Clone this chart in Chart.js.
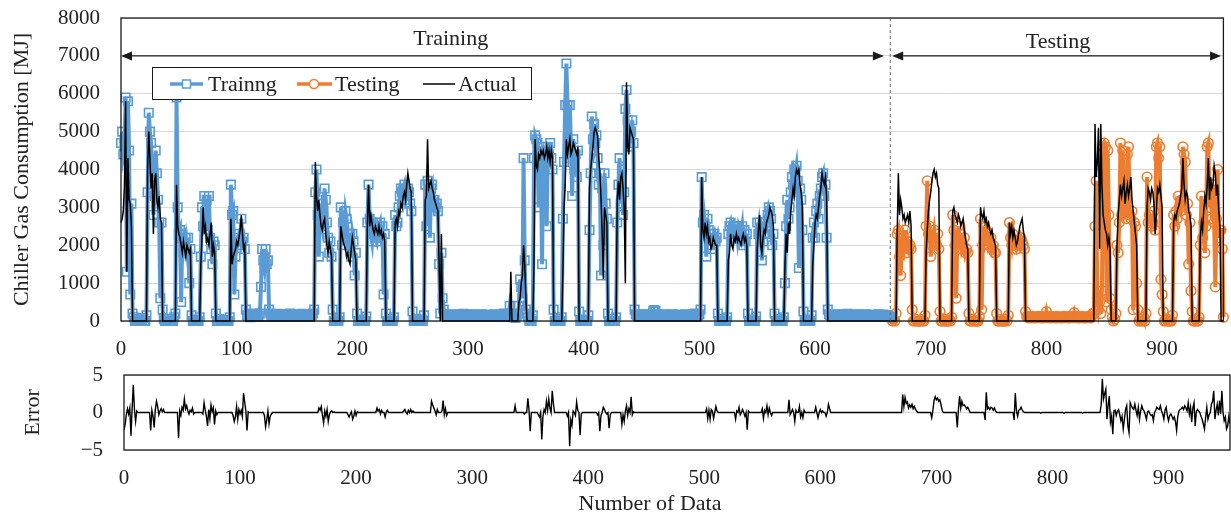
<!DOCTYPE html>
<html lang="en">
<head>
  <meta charset="UTF-8">
  <title>Chiller Gas Consumption - Training / Testing</title>

  <!-- Chart.js for graph -->
  <script src="https://cdn.jsdelivr.net/npm/chart.js"></script>

  <style>
    body { margin: 0; background: #fff; }
    #wrap { position: relative; width: 1231px; height: 518px; }
    #topChart { position: absolute; left: 0; top: 0; }
    #errChart { position: absolute; left: 0; top: 355px; }
  </style>
</head>

<body>
  <div id="wrap">
    <canvas id="topChart" width="1231" height="365"></canvas>
    <canvas id="errChart" width="1231" height="163"></canvas>
  </div>

  <script>
    // ---- data (one value per data index) ----
    const xTicks = [0, 100, 200, 300, 400, 500, 600, 700, 800, 900];
    const yTicks = [0, 1000, 2000, 3000, 4000, 5000, 6000, 7000, 8000];
    const errTicks = [-5, 0, 5];
    const lastIndex = 953;
    const testStart = 666;   // first testing index
    const splitAt = 665;     // dashed separator

    // measured consumption, index 0..953
    const actual = [
      2600,2700,2900,3600,5800,1300,4300,3200,3100,2500,
      0,0,0,0,0,0,0,0,0,0,0,0,0,
      4000,5000,4300,3500,3900,2300,3700,3900,3200,3000,3300,2700,2600,
      0,0,0,0,0,0,0,0,0,0,0,0,
      3600,2500,2300,2200,2000,1800,2100,1900,1700,2000,1900,1800,1900,
      0,0,0,0,0,0,0,0,
      1500,2200,3000,2300,2500,2100,2200,2000,2300,2600,1700,2000,1800,
      0,0,0,0,0,0,0,0,0,0,0,0,0,
      2700,1500,1700,1800,1900,2100,2000,2200,2400,2800,2300,1900,2000,
      0,0,0,0,0,0,0,0,0,0,
      0,0,0,0,0,0,0,0,0,0,
      0,0,0,0,0,0,0,0,0,0,
      0,0,0,0,0,0,0,0,0,0,
      0,0,0,0,0,0,0,0,0,0,
      0,0,0,0,0,0,0,0,0,0,
      4200,3300,2900,3200,2800,2500,2400,2600,2700,2300,2000,1800,2100,1900,1700,
      0,0,0,0,0,0,0,
      2500,2300,2100,2000,1900,1700,1800,1600,1500,1900,2200,2000,1800,1600,
      0,0,0,0,0,0,0,0,0,
      2600,3600,2500,2800,2600,2400,2300,2500,2400,2300,2500,2300,2400,2200,2300,2100,
      0,0,0,0,0,0,0,0,
      2600,2700,2500,2900,2800,3100,3000,3300,3400,3200,3600,3900,3700,3500,3400,
      0,0,0,0,0,0,0,0,0,0,0,
      3200,3300,4800,3500,3600,3700,3500,3400,3200,3100,3000,2900,1500,0,2300,0,
      0,0,0,0,0,0,0,0,0,0,
      0,0,0,0,0,0,0,0,0,0,
      0,0,0,0,0,0,0,0,0,0,
      0,0,0,0,0,0,0,0,0,0,
      0,0,0,0,0,0,0,0,0,0,
      0,0,0,0,0,0,0,0,
      1300,
      0,0,0,0,0,0,
      500,600,1000,1200,2000,1500,600,
      0,0,0,0,0,0,
      1500,4800,4100,4000,4400,4300,4500,4400,4500,4300,4400,4600,4300,4500,4200,4500,4300,
      0,0,0,0,0,0,0,0,
      1300,3000,3600,4800,4400,4600,4800,4400,4500,4700,4600,4500,4400,4600,
      0,0,0,0,0,0,0,0,0,
      3500,4000,4300,4600,5000,5100,5000,4900,4300,3900,3200,2300,1100,3000,2800,2600,
      0,0,0,0,0,0,0,0,
      3200,3700,3200,3800,3900,3500,3000,1000,6300,4600,4400,5100,5000,4900,4800,
      0,0,0,0,0,0,0,0,0,0,
      0,0,0,0,0,0,0,0,0,0,
      0,0,0,0,0,0,0,0,0,0,
      0,0,0,0,0,0,0,0,0,0,
      0,0,0,0,0,0,0,0,0,0,
      0,0,0,0,0,0,0,0,
      3800,2400,2200,2600,2300,2500,2100,2200,1900,2000,2200,2100,2000,2000,
      0,0,0,0,0,0,0,0,0,
      1600,1800,2300,2000,1900,2200,2100,2300,2100,2200,2100,2000,2200,2300,2100,2200,2000,
      0,0,0,0,0,0,0,0,
      1900,2400,2800,2000,1800,2200,2400,2300,2600,2700,2800,3000,2900,2800,2500,
      0,0,0,0,0,0,0,0,0,
      1500,2300,1800,2600,2300,2900,3200,3500,3300,3800,4000,3900,4000,3600,3400,3000,
      0,0,0,0,0,0,0,0,
      1500,2000,2600,2800,2700,3000,3300,3500,3900,3700,3600,3800,3300,
      0,0,0,0,0,0,0,0,0,0,
      0,0,0,0,0,0,0,0,0,0,
      0,0,0,0,0,0,0,0,0,0,
      0,0,0,0,0,0,0,0,0,0,
      0,0,0,0,0,0,0,0,0,0,
      0,0,0,0,0,0,0,0,0,0,
      2300,3900,2800,3200,3000,2700,2800,2600,2700,2800,2600,2900,2500,
      0,0,0,0,0,0,0,0,0,0,0,0,
      1800,2400,2900,3200,3400,3700,3900,4000,3800,3900,3600,3500,
      0,0,0,0,0,0,0,0,0,0,0,
      2900,3000,2800,2700,2600,2800,2700,2500,2600,2700,2400,2200,2000,1900,
      0,0,0,0,0,0,0,0,0,0,
      3000,2800,2700,2900,2600,2700,2500,2600,2400,2300,2400,2200,2100,2000,
      0,0,0,0,0,0,0,0,0,0,0,
      2600,2300,2500,2200,2400,2200,2000,2100,2300,2500,2600,2700,2400,2200,
      0,0,0,0,0,0,0,0,0,0,
      0,0,0,0,0,0,0,0,0,0,
      0,0,0,0,0,0,0,0,0,0,
      0,0,0,0,0,0,0,0,0,0,
      0,0,0,0,0,0,0,0,0,0,
      0,0,0,0,0,0,0,0,0,0,
      5200,3800,4200,5100,1900,5200,3600,2800,2600,2400,2300,2000,2200,1900,
      0,0,0,0,0,
      2000,2800,3200,3600,3300,3500,3700,3100,3400,3600,3300,3500,3800,3200,2900,2600,2300,2000,
      0,0,0,0,0,0,0,0,
      3000,3500,3400,3200,3500,3400,3100,2300,2800,3500,3400,3600,3300,3000,
      0,0,0,0,0,0,0,0,0,
      2600,2800,2700,2900,3000,3100,3300,3500,4300,3600,3200,3400,3300,2900,2800,2500,
      0,0,0,0,0,0,0,
      2200,2600,2400,2900,3300,3100,3600,4300,3200,3800,3500,3600,4100,3900,3300,3600,2900,2500,
      0,0,0
    ];

    // model output on the training part, index 0..665
    const trainPred = [
      4700,5000,4400,4600,5900,1300,5800,4500,700,3100,
      200,100,0,0,50,0,0,0,0,80,0,0,150,
      3400,5500,5000,4700,3600,2800,3300,4500,3900,3200,2600,600,2600,
      300,50,0,0,0,60,0,0,0,0,100,200,
      5900,3000,2300,2400,500,2300,1800,2000,2200,1900,2200,1000,1900,
      150,0,0,0,40,0,0,100,
      1700,3000,2500,3300,2900,3200,2400,3300,2200,1900,1500,2100,2000,
      200,0,0,60,0,0,0,0,30,0,0,0,100,
      3600,2800,2900,700,1700,2000,2200,2300,2000,2700,2100,2200,1900,
      300,150,120,180,100,150,200,130,160,120,180,140,200,
      900,1900,1600,1400,1900,1500,1600,300,
      200,150,180,120,160,140,190,110,170,150,
      130,180,160,120,150,170,140,200,160,130,
      150,180,120,160,140,170,150,190,130,160,
      120,180,150,140,170,130,160,200,300,
      3400,4000,2800,1700,3100,2700,2500,2900,3500,3200,2600,2200,1800,2100,1700,
      300,0,0,50,0,0,100,
      3000,2000,2600,2400,2900,2700,2200,2000,2300,1700,2300,2100,1200,1800,
      200,0,0,40,0,0,0,0,120,
      2600,3600,2700,2300,2100,2600,2500,2200,2100,2400,2500,2600,2200,2500,700,2300,
      200,0,0,50,0,0,0,100,
      2800,2500,2600,3000,3300,3500,3400,3500,3600,3200,3300,3500,3400,3100,2900,
      250,0,0,60,0,0,0,0,40,0,150,
      3600,2500,3700,3600,2200,3500,3600,3100,3200,3000,3100,2900,1500,200,1800,600,
      300,180,150,120,160,140,170,130,150,180,
      120,160,140,150,170,130,160,190,140,120,
      150,170,130,160,140,180,120,150,160,140,
      170,130,150,180,120,160,140,150,170,130,
      160,140,120,150,180,130,160,140,170,150,
      130,160,200,140,120,150,180,400,
      200,
      150,100,120,80,150,200,
      400,1100,900,600,4300,1600,300,
      200,100,0,50,0,150,
      4300,4900,4800,4700,3000,4400,4100,1500,4600,4000,4500,2500,4600,4400,4700,4300,4000,
      300,0,0,50,0,0,0,100,
      2700,4200,5700,6800,5700,4300,5700,4600,3300,4800,4000,4400,3800,4500,
      250,0,0,40,0,0,0,0,150,
      2400,3900,5400,4800,5200,4700,4900,4300,3600,3900,1200,3500,2000,3900,3100,2700,
      200,0,0,60,0,0,0,100,
      2600,3600,4300,3100,4000,2800,3400,5600,6100,5300,4600,4900,5000,5300,4700,
      300,180,150,120,160,140,170,130,150,180,
      120,160,140,150,170,130,250,290,260,120,
      150,170,130,160,140,180,120,150,160,140,
      170,130,150,180,120,160,140,150,170,130,
      160,140,120,150,180,130,160,140,170,150,
      130,160,200,140,120,150,180,300,
      3800,2600,2800,2500,1700,2700,2400,2000,2300,1900,2200,2300,2100,2200,
      200,0,0,50,0,0,0,0,100,
      2300,2500,2600,2400,2500,2300,2500,2500,2200,2500,2400,2300,2500,2000,2400,2100,2300,
      200,0,0,40,0,0,0,120,
      2600,2300,2600,2400,1600,2100,2300,2600,2500,2800,3000,2900,2700,2000,2300,
      200,0,0,50,0,0,0,0,100,
      1000,2500,3200,2700,3000,3400,3800,3600,4000,3900,4100,3700,1400,3500,3200,2400,
      250,0,0,40,0,0,0,150,
      2200,2600,2200,2900,3100,2700,3300,3500,3800,3900,3300,3600,2200,
      300,180,150,120,160,140,170,130,150,180,
      120,160,140,150,170,130,160,190,140,120,
      150,170,130,160,140,180,120,150,160,140,
      170,130,150,180,120,160,140,150,170,130,
      160,140,120,150,180,130,160,140,170,150,
      130,160,140,120,100
    ];

    // model output on the testing part, index 666..953
    const testPred = [
      100,0,50,0,200,
      2300,2400,1700,1200,1900,2200,2000,2400,1800,2100,1900,2000,1900,
      300,0,0,50,0,0,0,0,40,0,0,150,
      2500,3700,2300,2500,1700,2000,2200,2400,2100,2000,2300,1900,
      250,0,0,60,0,0,0,0,30,0,100,
      2800,2400,2000,600,2200,2500,2000,2300,1900,2000,2200,1800,1900,1800,
      200,0,0,50,0,0,0,0,0,120,
      2700,300,2000,2500,2200,2400,2300,2000,2100,2200,1900,2000,1800,1800,
      200,0,0,40,0,0,0,0,50,0,150,
      2600,2200,2000,2300,2100,2000,1900,2000,2100,2000,2200,2100,2000,1900,
      250,120,100,80,110,90,120,100,80,110,
      90,120,100,110,80,100,120,90,250,110,
      100,80,120,90,110,100,80,120,90,100,
      110,80,100,120,90,110,100,80,120,90,
      100,110,220,90,120,100,80,110,90,120,
      100,80,110,90,120,100,80,110,200,200,
      2500,3700,600,300,500,200,800,4600,4700,4600,500,4500,2800,600,
      300,100,0,50,200,
      2000,1800,2600,4700,2800,4500,2900,3000,2700,4400,4600,2800,2700,2900,300,2600,2500,1000,
      300,0,50,0,0,100,0,200,
      3800,2600,2800,2700,2500,2600,2900,2400,4600,4700,4300,4600,1100,700,
      250,0,0,60,0,0,0,0,150,
      2800,2500,2900,2700,3300,3000,2900,3200,4600,4400,4200,2800,3100,1500,2600,800,
      250,0,0,50,0,0,100,
      2000,3300,2200,2600,1800,2500,4600,4700,3000,3400,2700,3600,2600,900,2700,4000,2200,2400,
      2400,1900,100
    ];

    // error panel, index 0..953
    const errorVals = [
      -2.3,-1.6,-0.3,0.5,-0.2,0.6,-3.1,0.5,3.7,0.4,
      -1.2,0.2,0,0,0,0,0,0,0,0,0,0,0,
      -2.4,0.3,-0.5,-2.0,0.4,1.5,0.8,-0.3,0.2,0.5,0.1,0.4,0,
      0,0,0,0,0,0,0,0,0,0,0,-3.4,
      0.2,-0.4,0.7,0.3,1.8,0.5,0.9,0.2,-0.2,0.3,0.1,0.6,-0.2,
      0,0,0,0,0,0,0,-0.2,
      1.3,0.3,-0.5,-1.8,0.4,-0.8,1.0,0.1,0.6,-1.6,0.2,-0.3,0,
      0,0,0,0,0,0,0,0,0,0,0,0,-0.4,
      -1.2,-0.6,0.8,-0.9,0.4,-0.2,0.3,-0.5,2.6,1.4,0.2,-2.4,0.1,
      0,0,0,0,0,0,0,0,0,0,0,0,0,
      -0.4,-1.9,-1.0,0.2,-1.5,-0.5,-0.2,0,
      0,0,0,0,0,0,0,0,0,0,
      0,0,0,0,0,0,0,0,0,0,
      0,0,0,0,0,0,0,0,0,0,
      0,0,0,0,0,0,0,0,0,
      0.6,0.3,0.8,-0.4,-1.4,0.2,-0.5,0.4,-1.2,-0.3,0.1,0.2,0,0.1,0,
      0,0,0,0,0,0,0,
      0,0,0,-0.3,-0.6,-0.2,0.1,-0.9,-0.5,0.2,-0.4,0.1,0,0,
      0,0,0,0,0,0,0,0,0,
      0,0,0,0,0,0.6,0.2,0.4,-0.2,0.3,0,0,-0.6,0.1,0.3,0,
      0,0,0,0,0,0,0,0,
      0,0,0,0,0.2,0.4,0,-0.2,0.3,0,0.4,0,0.2,0,0,
      0,0,0,0,0,0,0,0,0,0,0,
      0,0,1.5,1.0,0.6,0.2,-0.3,0.4,0,0,0,0.2,1.6,-0.3,0.5,-0.4,
      0,0,0,0,0,0,0,0,0,0,
      0,0,0,0,0,0,0,0,0,0,
      0,0,0,0,0,0,0,0,0,0,
      0,0,0,0,0,0,0,0,0,0,
      0,0,0,0,0,0,0,0,0,0,
      0,0,0,0,0,0,0,0,
      0.9,
      0,0,0,0,0,0,
      0,-0.2,0,0,1.9,0.3,-2.5,
      0,0,0,0,0,0,
      -0.3,-0.6,0,-3.6,-0.5,0.4,0,1.5,0.3,1.8,0.6,0,2.9,1.2,0,0,0,
      0,0,0,0,0,0,0,0,
      -0.5,0,-4.5,-1.0,-1.7,0.2,0,-0.4,1.4,0.3,0,-3.0,-0.2,0,
      0,0,0,0,0,0,0,0,0,
      0,0,0,-0.3,0,-2.5,-0.4,0,0.7,0.4,0,-0.2,0,-2.1,-0.3,0,
      0,0,0,0,0,0,0,0,
      -1.6,-0.3,-1.2,0.2,0.9,-0.4,0.5,0,2.1,-0.3,0.1,0,0,0,0,
      0,0,0,0,0,0,0,0,0,0,
      0,0,0,0,0,0,0,0,0,0,
      0,0,0,0,0,0,0,0,0,0,
      0,0,0,0,0,0,0,0,0,0,
      0,0,0,0,0,0,0,0,0,0,
      0,0,0,0,0,0,0,0,
      0.5,-0.8,0.3,-0.9,0.4,0.2,-0.8,0,0.8,0.2,0,0,0,0,
      0,0,0,0,0,0,0,0,0,
      0,0,-0.9,0.2,0,0.7,-0.3,0,0.4,0,-0.5,0,-2.3,0.2,0,0,0,
      0,0,0,0,0,0,0,0,
      0.5,-0.8,0.3,0,0.9,-0.3,0.6,0,-0.4,0,0,0,0,0,0,
      0,0,0,0,0,0,0,0,1.7,
      -0.3,0,0.4,0,-1.2,0.3,0,0,0.8,-0.6,0,-0.7,0.3,0,0,0,
      0,0,0,0,0,0,0.7,0,
      -0.7,0,0.4,0,0.2,0,0,-0.5,0,1.1,0.5,0,0,
      0,0,0,0,0,0,0,0,0,0,
      0,0,0,0,0,0,0,0,0,0,
      0,0,0,0,0,0,0,0,0,0,
      0,0,0,0,0,0,0,0,0,0,
      0,0,0,0,0,0,0,0,0,0,
      0,0,0,0,0,0,0,0,0,0,
      2.4,0.8,2.0,1.2,1.4,0.6,1.0,0.7,1.1,0.5,0.8,0.4,0.2,
      0,0,0,0,0,0,0,0,0,0,0,0,
      -0.7,0.3,1.6,2.1,1.7,1.9,1.5,1.7,1.0,0.3,0,0,
      0,0,0,0,0,0,0,0,0,0,-2.0,
      0.4,2.2,0.6,1.5,0.9,1.0,0.8,0.5,0.7,0.4,0,0,0,0,
      0,0,0,0,0,0,0,0,0,-1.0,
      2.7,0.5,0.7,0.4,0.7,0.6,0.3,0.6,0.2,0,0,0,0,0,
      0,0,0,0,0,0,0,0,0,0,-1.0,
      2.6,0.2,-0.5,0.3,0.4,0.7,0.3,0.1,0,0,0,0,0,0,
      0,0,0,0,0,0,0,0,-0.1,0,
      0,0,0,0,0,0,0,0,0,0,
      0,0,0,0,0,0,0,0,-0.1,0,
      0,0,0,0,0,0,0,0,0,0,
      0,0,0,0,-0.1,0,0,0,0,0,
      0,0,0,0,0,0,0,0,0,0,
      1.0,4.5,1.8,2.5,3.1,-0.9,1.0,2.2,-1.3,-0.5,-2.9,0.2,0.3,-0.4,
      0.2,0.4,-0.3,-1.1,-0.5,
      -2.2,-0.9,0.4,0.9,-1.8,-2.7,1.3,0.9,0.6,0.4,1.1,0.3,-0.4,0.7,-0.9,0.2,0.9,0.4,
      0.2,-0.3,-0.9,0.1,0.2,-0.2,-0.4,-0.3,
      -1.1,0,0.3,0.7,0.5,0.4,0.9,0.2,-0.2,-0.9,0.3,0.7,-0.4,-1.1,
      -0.4,-0.2,-0.5,-0.9,-0.6,-1.2,-2.4,-0.5,0.2,
      0.4,0.5,0.7,0.4,0.9,0.6,0.2,1.3,-0.2,0.7,-1.3,0.6,1.3,-1.8,0.1,0.4,
      0.2,0,-0.5,-0.9,-1.5,-2.2,-0.7,
      0.7,-0.9,-0.3,0,1.1,1.5,2.9,-0.9,0.3,1.1,-0.4,1.6,-0.2,2.9,0,-1.1,-0.6,-2.2,
      -1.8,-0.5,-1.5
    ];

    // ---- styling ----
    const serif = "'Liberation Serif', 'Times New Roman', serif";
    const textColor = '#222';
    const blue = '#5B9BD5';
    const orange = '#ED7D31';
    const tickFont = { family: serif, size: 21 };
    const titleFont = { family: serif, size: 22 };

    const toXY = (arr, offset) => arr.map((v, i) => ({ x: i + offset, y: v }));
    const fmt = v => (v < 0 ? '\u2212' + Math.abs(v) : String(v));

    // keep tick labels from pushing the plot box around
    const noScalePad = s => { s.paddingTop = 0; s.paddingBottom = 0; s.paddingLeft = 0; s.paddingRight = 0; };

    function drawArrow(ctx, x1, x2, y) {
      const len = 11, half = 4.5;
      ctx.strokeStyle = '#1a1a1a';
      ctx.fillStyle = '#1a1a1a';
      ctx.lineWidth = 1.2;
      ctx.beginPath();
      ctx.moveTo(x1 + len, y);
      ctx.lineTo(x2 - len, y);
      ctx.stroke();
      ctx.beginPath();
      ctx.moveTo(x1, y); ctx.lineTo(x1 + len, y - half); ctx.lineTo(x1 + len, y + half);
      ctx.closePath(); ctx.fill();
      ctx.beginPath();
      ctx.moveTo(x2, y); ctx.lineTo(x2 - len, y - half); ctx.lineTo(x2 - len, y + half);
      ctx.closePath(); ctx.fill();
    }

    // frame, split line, arrows and the in-plot legend
    const topDecor = {
      id: 'topDecor',
      afterDraw(chart) {
        const { ctx, chartArea: a, scales: { x, y } } = chart;
        ctx.save();

        ctx.strokeStyle = '#1a1a1a';
        ctx.lineWidth = 1.3;
        ctx.strokeRect(a.left, a.top, a.right - a.left, a.bottom - a.top);

        const xs = x.getPixelForValue(splitAt);
        ctx.setLineDash([3, 3]);
        ctx.strokeStyle = '#666';
        ctx.lineWidth = 1;
        ctx.beginPath(); ctx.moveTo(xs, a.top); ctx.lineTo(xs, a.bottom); ctx.stroke();
        ctx.setLineDash([]);

        const ya = y.getPixelForValue(7000);
        drawArrow(ctx, x.getPixelForValue(0), x.getPixelForValue(659.5), ya);
        drawArrow(ctx, x.getPixelForValue(666.7), x.getPixelForValue(951), ya);

        ctx.fillStyle = textColor;
        ctx.font = '22px ' + serif;
        ctx.textAlign = 'center';
        ctx.textBaseline = 'alphabetic';
        ctx.fillText('Training', x.getPixelForValue(285), ya - 11);
        ctx.fillText('Testing', x.getPixelForValue(810), ya - 8);

        // legend box
        const lx = 152.5, ly = 67.5, lw = 379, lh = 32, cy = 84;
        ctx.fillStyle = '#fff';
        ctx.fillRect(lx, ly, lw, lh);
        ctx.strokeStyle = '#1a1a1a';
        ctx.lineWidth = 1;
        ctx.strokeRect(lx, ly, lw, lh);

        ctx.strokeStyle = blue; ctx.lineWidth = 3.5;
        ctx.beginPath(); ctx.moveTo(170, cy); ctx.lineTo(203, cy); ctx.stroke();
        ctx.fillStyle = '#fff'; ctx.lineWidth = 1.5;
        ctx.fillRect(182.5, cy - 4, 8, 8); ctx.strokeRect(182.5, cy - 4, 8, 8);

        ctx.strokeStyle = orange; ctx.lineWidth = 3.5;
        ctx.beginPath(); ctx.moveTo(297, cy); ctx.lineTo(332, cy); ctx.stroke();
        ctx.lineWidth = 1.5;
        ctx.beginPath(); ctx.arc(314, cy, 4.5, 0, Math.PI * 2); ctx.fill(); ctx.stroke();

        ctx.strokeStyle = '#000'; ctx.lineWidth = 1.5;
        ctx.beginPath(); ctx.moveTo(423, cy); ctx.lineTo(455, cy); ctx.stroke();

        ctx.fillStyle = textColor;
        ctx.textAlign = 'left';
        ctx.textBaseline = 'middle';
        ctx.fillText('Trainng', 208, cy + 1);
        ctx.fillText('Testing', 335, cy + 1);
        ctx.fillText('Actual', 458, cy + 1);

        ctx.restore();
      }
    };

    const errDecor = {
      id: 'errDecor',
      afterDraw(chart) {
        const { ctx, chartArea: a } = chart;
        ctx.save();
        ctx.strokeStyle = '#1a1a1a';
        ctx.lineWidth = 1.3;
        ctx.strokeRect(a.left, a.top, a.right - a.left, a.bottom - a.top);
        ctx.fillStyle = textColor;
        ctx.font = '22px ' + serif;
        ctx.textAlign = 'center';
        ctx.textBaseline = 'alphabetic';
        ctx.fillText('Number of Data', 650, 155);
        ctx.restore();
      }
    };

    new Chart(document.getElementById('topChart'), {
      type: 'line',
      data: {
        datasets: [
          {
            label: 'Actual',
            data: toXY(actual, 0),
            borderColor: '#000',
            borderWidth: 1.5,
            pointRadius: 0,
            order: 0,
            clip: false
          },
          {
            label: 'Trainng',
            data: toXY(trainPred, 0),
            borderColor: blue,
            borderWidth: 4,
            pointStyle: 'rect',
            pointRadius: 6,
            pointBorderWidth: 1.6,
            pointBorderColor: blue,
            pointBackgroundColor: 'rgba(255,255,255,0)',
            order: 1,
            clip: false
          },
          {
            label: 'Testing',
            data: toXY(testPred, testStart),
            borderColor: orange,
            borderWidth: 4,
            pointStyle: 'circle',
            pointRadius: 4.8,
            pointBorderWidth: 1.6,
            pointBorderColor: orange,
            pointBackgroundColor: 'rgba(255,255,255,0)',
            order: 2,
            clip: false
          }
        ]
      },
      options: {
        responsive: false,
        animation: false,
        events: [],
        layout: { padding: { top: 18, right: 3, bottom: 0, left: 0 } },
        plugins: { legend: { display: false }, tooltip: { enabled: false } },
        scales: {
          x: {
            type: 'linear',
            min: 0,
            max: lastIndex,
            grid: { display: false, drawTicks: false },
            border: { display: false },
            afterBuildTicks: s => { s.ticks = xTicks.map(v => ({ value: v })); },
            ticks: { padding: 16, font: tickFont, color: textColor, maxRotation: 0, autoSkip: false, callback: v => String(v) },
            afterFit: s => { s.height = 44; noScalePad(s); }
          },
          y: {
            min: 0,
            max: 8000,
            grid: { color: '#d9d9d9', lineWidth: 1, drawTicks: false },
            border: { display: false },
            afterBuildTicks: s => { s.ticks = yTicks.map(v => ({ value: v })); },
            ticks: { padding: 21, font: tickFont, color: textColor, callback: v => String(v) },
            title: {
              display: true,
              text: 'Chiller Gas Consumption [MJ]',
              font: titleFont,
              color: textColor,
              padding: { top: 9, bottom: 0 }
            },
            afterFit: s => { s.width = 121; noScalePad(s); }
          }
        }
      },
      plugins: [topDecor]
    });

    new Chart(document.getElementById('errChart'), {
      type: 'line',
      data: {
        datasets: [{
          label: 'Error',
          data: toXY(errorVals, 0),
          borderColor: '#000',
          borderWidth: 1.4,
          pointRadius: 0
        }]
      },
      options: {
        responsive: false,
        animation: false,
        events: [],
        layout: { padding: { top: 20, right: 1, bottom: 0, left: 0 } },
        plugins: { legend: { display: false }, tooltip: { enabled: false } },
        scales: {
          x: {
            type: 'linear',
            min: 0,
            max: lastIndex,
            grid: { display: false, drawTicks: false },
            border: { display: false },
            afterBuildTicks: s => { s.ticks = xTicks.map(v => ({ value: v })); },
            ticks: { padding: 16, font: tickFont, color: textColor, maxRotation: 0, autoSkip: false, callback: v => String(v) },
            afterFit: s => { s.height = 68; noScalePad(s); }
          },
          y: {
            min: -5,
            max: 5,
            grid: { color: '#d9d9d9', lineWidth: 1, drawTicks: false },
            border: { display: false },
            afterBuildTicks: s => { s.ticks = errTicks.map(v => ({ value: v })); },
            ticks: { padding: 21, font: tickFont, color: textColor, callback: fmt },
            title: {
              display: true,
              text: 'Error',
              font: titleFont,
              color: textColor,
              padding: { top: 20, bottom: 0 }
            },
            afterFit: s => { s.width = 124; noScalePad(s); }
          }
        }
      },
      plugins: [errDecor]
    });
  </script>
</body>
</html>
